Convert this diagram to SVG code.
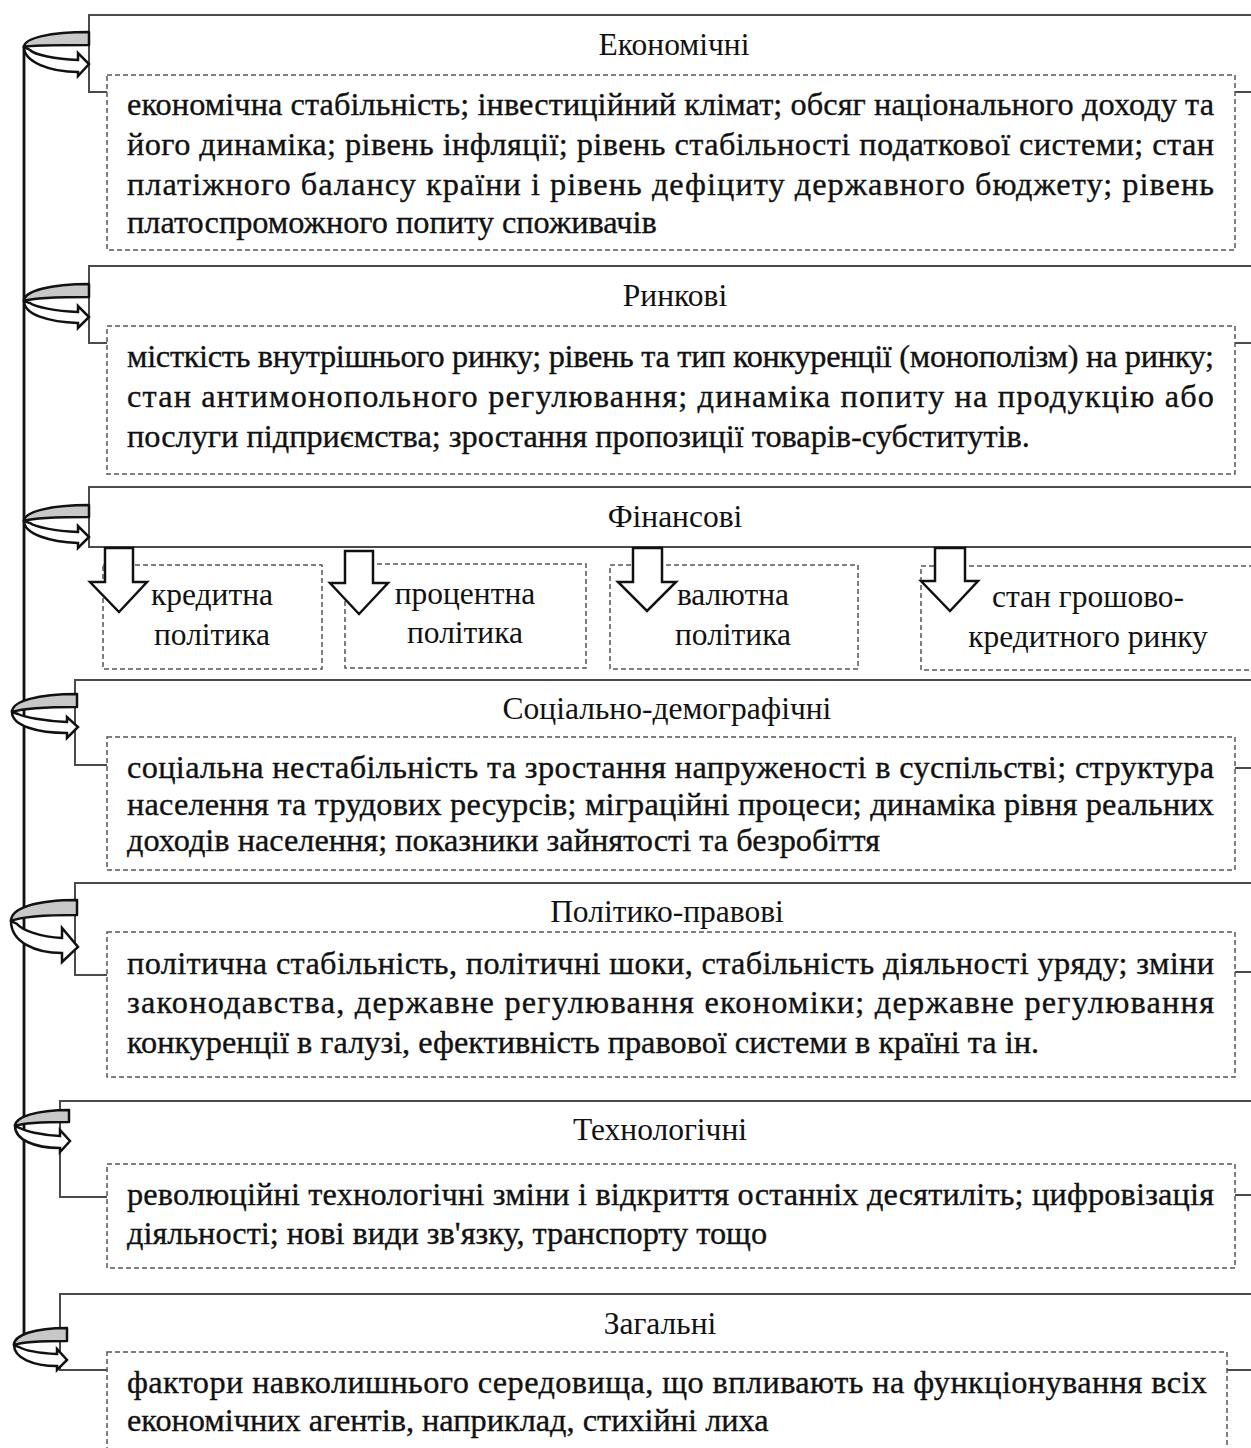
<svg xmlns="http://www.w3.org/2000/svg" width="1251" height="1448" viewBox="0 0 1251 1448">
<style>
.solid{fill:none;stroke:#4a4a4a;stroke-width:2}
.rectw{fill:#fff;stroke:#4a4a4a;stroke-width:2}
.dash{fill:#fff;stroke:#555;stroke-width:1.5;stroke-dasharray:5 3}
.hd{font-family:"Liberation Serif","Times New Roman",serif;font-size:31.5px;fill:#111;text-anchor:middle}
.bd{font-family:"Liberation Serif","Times New Roman",serif;font-size:32.3px;fill:#111;stroke:#111;stroke-width:0.35}
.sb{font-family:"Liberation Serif","Times New Roman",serif;font-size:31.5px;fill:#111;text-anchor:middle}
.gray{fill:#c8c8c8;stroke:#111;stroke-width:2.5;stroke-linejoin:round}
.wa{fill:#fff;stroke:#111;stroke-width:2.5;stroke-linejoin:miter}
.vline{stroke:#111;stroke-width:2.8;fill:none}
</style>
<g id="connectors">
<line class="vline" x1="24" y1="46" x2="24" y2="1336"/>
</g>
<g id="economic">
<path class="solid" d="M1260,15 L89,15 L89,92 L107,92 M1235,92 L1260,92"/>
<rect class="dash" x="107" y="75" width="1128" height="175"/>
<text class="hd" x="674" y="55">Економічні</text>
<text class="bd" x="127" y="115" textLength="1087">економічна стабільність; інвестиційний клімат; обсяг національного доходу та</text>
<text class="bd" x="127" y="155" textLength="1087">його динаміка; рівень інфляції; рівень стабільності податкової системи; стан</text>
<text class="bd" x="127" y="195" textLength="1087">платіжного балансу країни і рівень дефіциту державного бюджету; рівень</text>
<text class="bd" x="127" y="233">платоспроможного попиту споживачів</text>
</g>
<g id="market">
<path class="solid" d="M1260,266 L89,266 L89,343 L107,343 M1235,343 L1260,343"/>
<rect class="dash" x="107" y="326" width="1128" height="148"/>
<text class="hd" x="675" y="306">Ринкові</text>
<text class="bd" x="127" y="367" textLength="1087">місткість внутрішнього ринку; рівень та тип конкуренції (монополізм) на ринку;</text>
<text class="bd" x="127" y="407" textLength="1087">стан антимонопольного регулювання; динаміка попиту на продукцію або</text>
<text class="bd" x="127" y="447">послуги підприємства; зростання пропозиції товарів-субститутів.</text>
</g>
<g id="financial">
<rect class="rectw" x="89" y="487" width="1172" height="60"/>
<text class="hd" x="675" y="527">Фінансові</text>
</g>
<g id="credit">
<rect class="dash" x="103" y="565" width="219" height="104"/>
<text class="sb" x="212" y="605">кредитна</text>
<text class="sb" x="212" y="645">політика</text>
</g>
<g id="interest">
<rect class="dash" x="345" y="564" width="241" height="104"/>
<text class="sb" x="465" y="604">процентна</text>
<text class="sb" x="465" y="643">політика</text>
</g>
<g id="currency">
<rect class="dash" x="610" y="565" width="248" height="104"/>
<text class="sb" x="733" y="605">валютна</text>
<text class="sb" x="733" y="645">політика</text>
</g>
<g id="money-market">
<rect class="dash" x="921" y="566" width="340" height="104"/>
<text class="sb" x="1088" y="607">стан грошово-</text>
<text class="sb" x="1088" y="647">кредитного ринку</text>
</g>
<g id="social">
<path class="solid" d="M1260,680 L75,680 L75,765 L107,765 M1235,768 L1260,768"/>
<rect class="dash" x="107" y="737" width="1128" height="133"/>
<text class="hd" x="667" y="719">Соціально-демографічні</text>
<text class="bd" x="127" y="778" textLength="1087">соціальна нестабільність та зростання напруженості в суспільстві; структура</text>
<text class="bd" x="127" y="815" textLength="1087">населення та трудових ресурсів; міграційні процеси; динаміка рівня реальних</text>
<text class="bd" x="127" y="851">доходів населення; показники зайнятості та безробіття</text>
</g>
<g id="political">
<path class="solid" d="M1260,883 L75,883 L75,975 L107,975 M1235,972 L1260,972"/>
<rect class="dash" x="107" y="932" width="1128" height="145"/>
<text class="hd" x="667" y="922">Політико-правові</text>
<text class="bd" x="127" y="974" textLength="1087">політична стабільність, політичні шоки, стабільність діяльності уряду; зміни</text>
<text class="bd" x="127" y="1013" textLength="1087">законодавства, державне регулювання економіки; державне регулювання</text>
<text class="bd" x="127" y="1053">конкуренції в галузі, ефективність правової системи в країні та ін.</text>
</g>
<g id="technological">
<path class="solid" d="M1260,1101 L60,1101 L60,1197 L107,1197 M1235,1195 L1260,1195"/>
<rect class="dash" x="107" y="1164" width="1128" height="104"/>
<text class="hd" x="660" y="1140">Технологічні</text>
<text class="bd" x="127" y="1205" textLength="1087">революційні технологічні зміни і відкриття останніх десятиліть; цифровізація</text>
<text class="bd" x="127" y="1244">діяльності; нові види зв'язку, транспорту тощо</text>
</g>
<g id="general">
<path class="solid" d="M1260,1294 L60,1294 L60,1370 L107,1370 M1227,1370 L1260,1370"/>
<rect class="dash" x="107" y="1352" width="1120" height="110"/>
<text class="hd" x="660" y="1334">Загальні</text>
<text class="bd" x="127" y="1393" textLength="1080">фактори навколишнього середовища, що впливають на функціонування всіх</text>
<text class="bd" x="127" y="1431">економічних агентів, наприклад, стихійні лиха</text>
</g>
<g id="ring-arrows">
<path class="gray" d="M89,32 C50,32 24,38 24,47 C30,45 50,45 89,45 Z"/>
<path class="wa" d="M24,47 C24,62 50,72 78,72 L78,76 L89,64 L78,53 L78,60 C55,59 35,55 30,50 Z"/>
<path class="gray" d="M89,284 C50,284 24,291 24,301 C30,299 50,297 89,297 Z"/>
<path class="wa" d="M24,301 C24,315 50,322 78,323 L78,328 L89,317 L78,306 L78,312 C55,311 35,307 30,303 Z"/>
<path class="gray" d="M89,505 C50,505 24,512 24,521 C30,519 50,517 89,517 Z"/>
<path class="wa" d="M24,521 C24,534 50,542 78,543 L78,548 L89,537 L78,526 L78,532 C55,531 35,527 30,523 Z"/>
<path class="gray" d="M77,694 C38,694 12,701 12,712 C18,710 38,707 77,707 Z"/>
<path class="wa" d="M12,712 C12,726 38,733 67,733 L67,738 L78,727 L67,717 L67,722 C44,721 24,717 18,714 Z"/>
<path class="gray" d="M77,900 C36,900 11,908 11,921 C18,918 38,915 77,915 Z"/>
<path class="wa" d="M11,921 C11,942 35,953 62,953 L62,962 L78,947 L62,928 L62,938 C40,937 22,930 17,924 Z"/>
<path class="gray" d="M69,1110 C36,1110 15,1117 15,1126 C20,1124 36,1122 69,1122 Z"/>
<path class="wa" d="M15,1126 C15,1140 35,1148 60,1148 L60,1152 L70,1141 L60,1130 L60,1136 C40,1135 25,1131 20,1128 Z"/>
<path class="gray" d="M67,1328 C34,1328 14,1335 14,1345 C19,1343 35,1341 67,1341 Z"/>
<path class="wa" d="M14,1345 C14,1358 33,1366 57,1366 L57,1370 L67,1360 L57,1349 L57,1354 C38,1353 24,1350 19,1347 Z"/>
</g>
<g id="down-arrows">
<path class="wa" d="M105,548 L133,548 L133,582 L147,582 L119,612 L90,582 L105,582 Z"/>
<path class="wa" d="M345,551 L373,551 L373,583 L388,583 L359,614 L330,583 L345,583 Z"/>
<path class="wa" d="M633,548 L662,548 L662,582 L676,582 L647,611 L618,582 L633,582 Z"/>
<path class="wa" d="M935,548 L965,548 L965,581 L978,581 L950,611 L921,581 L935,581 Z"/>
</g>
</svg>
